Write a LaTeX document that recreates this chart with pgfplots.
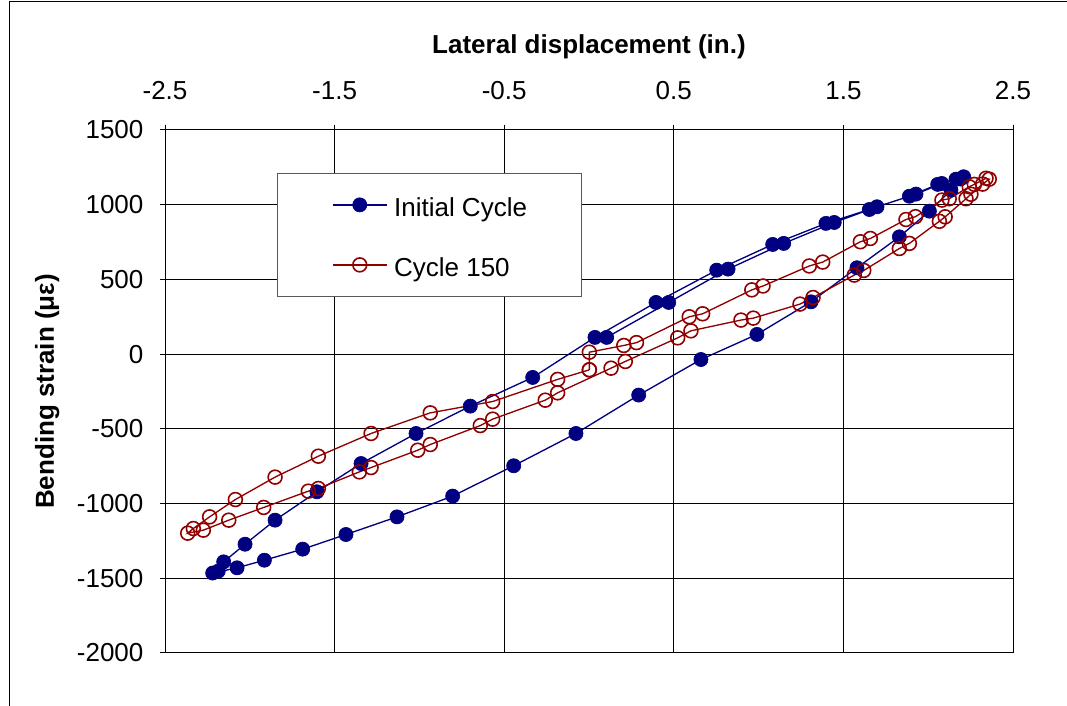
\documentclass[border=0pt]{standalone}
\usepackage{pgfplots}
\pgfplotsset{compat=1.18}
\usepackage{fontspec}
\setmainfont{Liberation Sans}

\definecolor{initblue}{RGB}{0,0,128}
\definecolor{cycred}{RGB}{145,0,0}
\newcommand\chartfont{\fontsize{19.5}{23}\selectfont}

% Initial cycle: bending strain vs. lateral displacement
\pgfplotstableread{
x y
0.104 112
0.470 346
0.820 569
1.148 741
1.446 881
1.698 986
1.928 1071
2.080 1142
2.209 1187
2.164 1171
2.056 1136
1.889 1057
1.653 968
1.397 875
1.083 734
0.753 562
0.395 346
0.035 112
-0.332 -156
-0.700 -348
-1.020 -531
-1.344 -732
-1.604 -921
-1.851 -1111
-2.028 -1272
-2.154 -1390
-2.186 -1452
-2.219 -1465
-2.075 -1430
-1.914 -1379
-1.688 -1305
-1.433 -1207
-1.132 -1089
-0.804 -950
-0.444 -747
-0.077 -531
0.293 -274
0.660 -36
0.990 132
1.309 350
1.580 578
1.830 785
2.007 957
2.134 1098
2.190 1172
}\initial

% Cycle 150
\pgfplotstableread{
x y
0.002 -105
-0.185 -169
-0.568 -317
-0.936 -393
-1.285 -531
-1.596 -683
-1.851 -823
-2.085 -973
-2.237 -1089
-2.333 -1167
-2.366 -1198
-2.274 -1178
-2.124 -1111
-1.918 -1026
-1.655 -917
-1.596 -899
-1.354 -788
-1.285 -759
-1.010 -643
-0.936 -605
-0.641 -478
-0.568 -435
-0.258 -308
-0.185 -259
0.130 -94
0.214 -49
0.523 109
0.601 156
0.896 228
0.969 241
1.244 335
1.321 379
1.564 529
1.620 560
1.830 707
1.889 741
2.066 889
2.100 919
2.223 1040
2.252 1070
2.321 1138
2.360 1171
2.341 1177
2.272 1136
2.242 1120
2.124 1040
2.081 1031
1.925 920
1.869 901
1.659 774
1.600 752
1.378 616
1.299 590
1.026 456
0.960 430
0.670 270
0.591 250
0.280 77
0.205 58
0.002 13
0.002 -105
}\cyclefifty

\begin{document}
\begin{tikzpicture}
\useasboundingbox (0,0) rectangle (800.25pt,529.5pt);
\draw[black, line width=0.75pt] (7.1pt,-1pt) -- (7.1pt,528pt) -- (802pt,528pt);
\begin{axis}[
  at={(123.75pt,39.75pt)}, anchor=south west,
  scale only axis, width=636pt, height=392.25pt,
  xmin=-2.5, xmax=2.5, ymin=-2000, ymax=1500,
  xtick={-2.5,-1.5,-0.5,0.5,1.5,2.5},
  xticklabels={-2.5,-1.5,-0.5,0.5,1.5,2.5},
  ytick={-2000,-1500,-1000,-500,0,500,1000,1500},
  yticklabels={-2000,-1500,-1000,-500,0,500,1000,1500},
  xtick pos=upper, xticklabel pos=upper, ytick pos=left,
  tick align=outside, major tick length=4pt,
  tick style={black, line width=0.75pt},
  grid=major, major grid style={black, line width=0.75pt},
  axis line style={black, line width=0.75pt},
  font=\chartfont,
  xticklabel style={anchor=south, inner sep=0pt, yshift=18.4pt, font=\chartfont},
  yticklabel style={anchor=east, inner sep=0pt, xshift=-12pt, font=\chartfont},
  xlabel={Lateral displacement (in.)},
  ylabel={Bending strain (με)},
  xlabel style={at={(rel axis cs:0.5,1.1587)}, anchor=center, font=\chartfont\bfseries},
  ylabel style={at={(rel axis cs:-0.139,0.5)}, anchor=center, rotate=0, font=\chartfont\bfseries},
  legend style={at={(0.132,0.918)}, anchor=north west, draw=black!65, line width=0.75pt,
    fill=white, inner xsep=41pt, inner ysep=14.75pt, row sep=27.25pt, column sep=5pt,
    font=\chartfont, nodes={inner sep=0pt, text height=17.75pt, text depth=0pt}},
  legend cell align=left,
  legend image code/.code={\draw[mark repeat=2, mark phase=2] plot coordinates {(0pt,0pt) (20.25pt,0pt) (40.5pt,0pt)};},
]
\addplot[initblue, line width=1pt, mark=*, mark size=5.3pt, mark options={fill=initblue, draw=initblue, line width=0.5pt}]
  table[x=x, y=y] {\initial};
\addlegendentry{Initial Cycle}
\addplot[cycred, line width=1pt, mark=o, mark size=5.2pt, mark options={fill=white, draw=cycred, line width=1.2pt}]
  table[x=x, y=y] {\cyclefifty};
\addlegendentry{Cycle 150}
\end{axis}
\end{tikzpicture}
\end{document}
